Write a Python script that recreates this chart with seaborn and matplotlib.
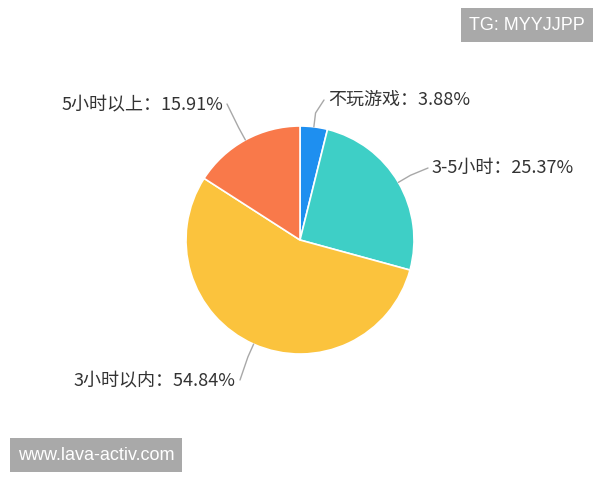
import matplotlib.pyplot as plt
import numpy as np
import seaborn as sns

sns.set_theme(style="white")
plt.rcParams["font.family"] = ["Noto Sans CJK SC", "DejaVu Sans"]

# data
categories = ["不玩游戏", "3-5小时", "3小时以内", "5小时以上"]
shares = [3.88, 25.37, 54.84, 15.91]
colors = ["#1e8ff0", "#3ecfc6", "#fbc33d", "#f9794a"]

# label text anchors in pixel space (x, y from top, alignment)
label_pos = [(328, 100, "left"), (432, 168, "left"), (236, 380, "right"), (223, 104, "right")]

W, H = 600, 480
fig = plt.figure(figsize=(6, 4.8), dpi=100)
ax = fig.add_axes([0, 0, 1, 1])

cx, cy, r = 300, 240, 114
wedges, _ = ax.pie(
    shares,
    colors=colors,
    startangle=90,
    counterclock=False,
    center=(cx, cy),
    radius=r,
    wedgeprops={"edgecolor": "white", "linewidth": 1.2},
    frame=True,
)
ax.set_xlim(0, W)
ax.set_ylim(0, H)
ax.set_aspect("equal")
ax.axis("off")

for w, cat, val, (tx, ty, ha), col in zip(wedges, categories, shares, label_pos, colors):
    mid = np.deg2rad((w.theta1 + w.theta2) / 2)
    ex, ey = cx + r * np.cos(mid), cy + r * np.sin(mid)
    kx, ky = cx + (r + 14) * np.cos(mid), cy + (r + 14) * np.sin(mid)
    end_x = tx - 4 if ha == "left" else tx + 4
    end_y = H - ty
    ax.plot([ex, kx, end_x], [ey, ky, end_y], color="#a8a8a8", lw=1, solid_capstyle="round")
    ax.text(tx, H - ty, f"{cat}：{val:.2f}%", ha=ha, va="center", fontsize=13, color="#333333")

# watermark boxes
box = {"boxstyle": "square,pad=0.45", "facecolor": "#a9a9a9", "edgecolor": "none"}
ax.text(527, H - 25, "TG: MYYJJPP", ha="center", va="center", fontsize=13, color="white",
        family=["Liberation Sans"], bbox=box)
ax.text(96, H - 455, "www.lava-activ.com", ha="center", va="center", fontsize=13, color="white",
        family=["Liberation Sans"], bbox=box)

fig.savefig("out.png", dpi=100)
